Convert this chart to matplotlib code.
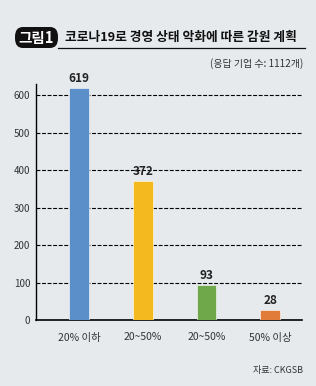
import matplotlib
matplotlib.use("Agg")
import matplotlib.pyplot as plt
from matplotlib.patches import FancyBboxPatch

plt.rcParams['font.family'] = ['Noto Sans CJK KR', 'DejaVu Sans']

categories = ["20% 이하", "20~50%", "20~50%", "50% 이상"]
values = [619, 372, 93, 28]
colors = ["#5b8fc9", "#f4b91e", "#6ea84a", "#e07b3a"]
yticks = [0, 100, 200, 300, 400, 500, 600]

W, H = 316, 386
bg = "#e6eaed"
fig = plt.figure(figsize=(W / 100, H / 100), dpi=100, facecolor=bg)

def fx(x): return x / W
def fy(y): return 1 - y / H

ax = fig.add_axes([fx(36), fy(320), fx(302) - fx(36), fy(84) - fy(320)])
ax.set_facecolor(bg)
x = list(range(len(categories)))
ax.bar(x, values, width=0.31, color=colors, edgecolor="white", linewidth=0.4, zorder=3)
ax.set_xlim(-0.675, 3.5)
ax.set_ylim(0, 630)
ax.set_yticks(yticks)
ax.set_yticklabels([str(t) for t in yticks], fontsize=7, color="#333333")
ax.set_xticks(x)
ax.set_xticklabels(categories, fontsize=7.5, color="#333333")
ax.tick_params(axis='both', length=0, pad=4)
ax.tick_params(axis='x', pad=9)
for s in ["top", "right"]:
    ax.spines[s].set_visible(False)
ax.spines["left"].set_linewidth(1.0)
ax.spines["bottom"].set_linewidth(1.2)
for t in yticks[1:]:
    ax.axhline(t, color="black", linestyle=(0, (3.5, 1.5)), linewidth=0.8, zorder=1)
for xi, v in zip(x, values):
    ax.text(xi, v + 8, str(v), ha="center", va="bottom", fontsize=8.5,
            fontweight="bold", color="#222222")

# title box
box = FancyBboxPatch((fx(15), fy(48)), fx(58) - fx(15), fy(27) - fy(48),
                     boxstyle="round,pad=0,rounding_size=0.025",
                     transform=fig.transFigure, facecolor="#111111", edgecolor="none")
fig.patches.append(box)
fig.text(fx(36.5), fy(38), "그림1", ha="center", va="center", fontsize=10.5,
         fontweight="bold", color="white")
fig.text(fx(65), fy(37), "코로나19로 경영 상태 악화에 따른 감원 계획", ha="left",
         va="center", fontsize=9.2, fontweight="bold", color="#111111")
fig.add_artist(plt.Line2D([fx(58), fx(305)], [fy(48), fy(48)], color="#111111",
                          linewidth=0.9, transform=fig.transFigure))
fig.text(fx(303), fy(64), "(응답 기업 수: 1112개)", ha="right", va="center",
         fontsize=7.2, color="#333333")
fig.text(fx(303), fy(370), "자료: CKGSB", ha="right", va="center",
         fontsize=6.5, color="#333333")

fig.savefig("out.png", dpi=100, facecolor=bg)
